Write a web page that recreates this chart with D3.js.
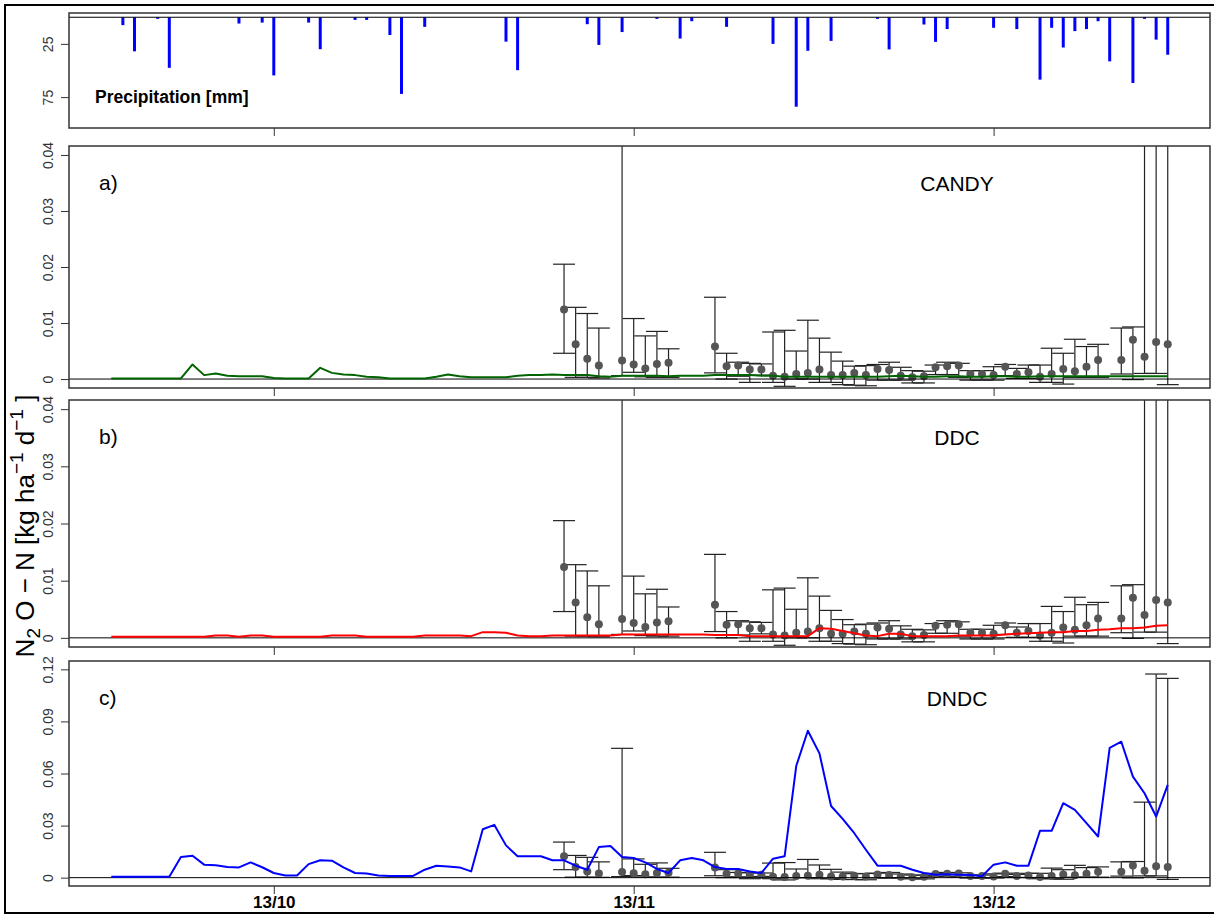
<!DOCTYPE html>
<html>
<head>
<meta charset="utf-8">
<script src="https://cdn.jsdelivr.net/npm/d3@7"></script>
<style>
  body { margin: 0; background: #fff; }
  text { font-family: "Liberation Sans", Arial, sans-serif; }
</style>
</head>
<body>
<svg id="chart" width="1214" height="915"></svg>
<script>
// day index: 0 = 13/10, model output is daily from day -14 to day 77
const modelStart = -14;
const tickDay = [0, 31, 62];
const tickLabel = ["13/10", "13/11", "13/12"];

const candy = [
  0.0001, 0.0001, 0.0001, 0.0001, 0.0001, 0.0001, 0.0001,
  0.0026, 0.0007, 0.0010, 0.0006, 0.0005, 0.0005, 0.0005,
  0.0002, 0.0001, 0.0001, 0.0001, 0.0020, 0.0011, 0.0008, 0.0007, 0.0004, 0.0003,
  0.0001, 0.0001, 0.0001, 0.0001, 0.0004, 0.0008, 0.0005, 0.0003, 0.0003, 0.0003,
  0.0003, 0.0006, 0.0007, 0.0007, 0.0008, 0.0007, 0.0007, 0.0007, 0.0005, 0.0004,
  0.0006, 0.0006, 0.0006, 0.0006, 0.0005, 0.0006, 0.0006, 0.0006, 0.0007, 0.0007,
  0.0007, 0.0007, 0.0006, 0.0006, 0.0004, 0.0004, 0.0004, 0.0004, 0.0004, 0.0004,
  0.0004, 0.0004, 0.0004, 0.0005, 0.0006, 0.0005, 0.0004, 0.0004, 0.0005, 0.0005,
  0.0004, 0.0004, 0.0005, 0.0005, 0.0004, 0.0004, 0.0005, 0.0005, 0.0005, 0.0005,
  0.0005, 0.0005, 0.0005, 0.0005, 0.0005, 0.0005, 0.0005, 0.0005
];

const ddc = [
  0.0002, 0.0002, 0.0002, 0.0002, 0.0002, 0.0002, 0.0002,
  0.0002, 0.0002, 0.0004, 0.0004, 0.0002, 0.0004, 0.0004,
  0.0002, 0.0002, 0.0002, 0.0002, 0.0002, 0.0004, 0.0004, 0.0004, 0.0002, 0.0002,
  0.0002, 0.0002, 0.0002, 0.0004, 0.0004, 0.0004, 0.0004, 0.0003, 0.0010, 0.0010,
  0.0009, 0.0004, 0.0003, 0.0003, 0.0004, 0.0004, 0.0004, 0.0004, 0.0004, 0.0004,
  0.0006, 0.0006, 0.0006, 0.0006, 0.0006, 0.0006, 0.0006, 0.0006, 0.0005, 0.0005,
  0.0005, 0.0003, 0.0003, 0.0003, 0.0003, 0.0003, 0.0003, 0.0017, 0.0016, 0.0012,
  0.0008, 0.0004, 0.0003, 0.0007, 0.0007, 0.0003, 0.0003, 0.0003, 0.0003, 0.0004,
  0.0004, 0.0004, 0.0004, 0.0006, 0.0007, 0.0008, 0.0009, 0.0010, 0.0010, 0.0012,
  0.0012, 0.0014, 0.0015, 0.0017, 0.0017, 0.0018, 0.0021, 0.0022
];

const dndc = [
  0.0005, 0.0005, 0.0005, 0.0005, 0.0005, 0.0005,
  0.0119, 0.0126, 0.0075, 0.0071, 0.0062, 0.0059, 0.0088, 0.0060,
  0.0027, 0.0013, 0.0012, 0.0078, 0.0100, 0.0098, 0.0059, 0.0027, 0.0024, 0.0012,
  0.0010, 0.0010, 0.0010, 0.0046, 0.0069, 0.0065, 0.0059, 0.0036, 0.0279, 0.0304,
  0.0186, 0.0123, 0.0123, 0.0123, 0.0100, 0.0100, 0.0069, 0.0046, 0.0176, 0.0182,
  0.0119, 0.0113, 0.0088, 0.0050, 0.0027, 0.0100, 0.0113, 0.0100, 0.0061, 0.0050,
  0.0050, 0.0036, 0.0027, 0.0109, 0.0123, 0.0643, 0.0846, 0.0716, 0.0413, 0.0339,
  0.0256, 0.0161, 0.0069, 0.0069, 0.0069, 0.0046, 0.0027, 0.0017, 0.0019, 0.0017,
  0.0015, 0.0008, 0.0075, 0.0088, 0.0069, 0.0069, 0.0270, 0.0270, 0.0429, 0.0390,
  0.0314, 0.0237, 0.0748, 0.0783, 0.0582, 0.0486, 0.0352, 0.0534
];

// measured fluxes (mean with upper / lower bounds)
const obsDay = [25, 26, 27, 28, 30, 31, 32, 33, 34,
  38, 39, 40, 41, 42, 43, 44, 45, 46, 47, 48, 49, 50, 51,
  52, 53, 54, 55, 56, 57, 58, 59, 60, 61, 62, 63, 64, 65, 66, 67, 68, 69, 70, 71,
  73, 74, 75, 76, 77];
const obsMean = [0.0124, 0.0062, 0.0036, 0.0024, 0.0033, 0.0026, 0.0019, 0.0027, 0.0029,
  0.0058, 0.0023, 0.0024, 0.0017, 0.0017, 0.0006, 0.0004, 0.0009, 0.0011, 0.0017, 0.0007, 0.0007, 0.0011, 0.0007,
  0.0018, 0.0016, 0.0006, 0.0003, 0.0005, 0.0021, 0.0023, 0.0024, 0.0009, 0.0009, 0.0007, 0.0022, 0.0009, 0.0012, 0.0004, 0.0009, 0.0018, 0.0014, 0.0022, 0.0034,
  0.0034, 0.0070, 0.0040, 0.0066, 0.0062];
const obsUpper = [0.0205, 0.0128, 0.0117, 0.0091, 0.0745, 0.0108, 0.0077, 0.0085, 0.0054,
  0.0146, 0.0046, 0.0030, 0.0028, 0.0027, 0.0084, 0.0087, 0.0050, 0.0105, 0.0073, 0.0048, 0.0032, 0.0023, 0.0024,
  0.0026, 0.0030, 0.0021, 0.0015, 0.0014, 0.0025, 0.0030, 0.0028, 0.0015, 0.0015, 0.0022, 0.0026, 0.0019, 0.0025, 0.0025, 0.0055, 0.0046, 0.0071, 0.0058, 0.0062,
  0.0091, 0.0093, 0.0435, 0.1173, 0.1148];
const obsLower = [0.0046, 0.0003, 0.0003, 0.0002, 0.0006, 0.0012, 0.0004, 0.0003, 0.0003,
  0.0011, 0.0000, 0.0005, -0.0006, 0.0007, -0.0006, -0.0013, 0.0000, 0.0000, -0.0006, -0.0006, -0.0010, -0.0011, -0.0012,
  -0.0002, -0.0002, -0.0002, -0.0007, -0.0007, 0.0008, 0.0008, 0.0003, -0.0002, -0.0002, -0.0002, 0.0006, 0.0001, 0.0001, -0.0006, -0.0006, -0.0009, 0.0003, 0.0003, 0.0003,
  0.0009, -0.0001, 0.0010, 0.0010, -0.0010];

// daily precipitation
const rainDay = [-13, -12, -10, -9, -3, -1, 0, 3, 4, 7, 8, 10, 11, 13, 20, 21, 27, 28, 30, 33,
  35, 36, 39, 43, 45, 46, 48, 52, 53, 56, 57, 58, 62, 64, 66, 67, 68, 69, 70, 71, 72, 74, 75, 76, 77];
const rainMm = [7.4, 32, 1.5, 47.5, 5.9, 5, 54.6, 5, 30, 2.5, 2.5, 16.7, 72, 9, 22.9, 49.7, 6.5, 26, 13.9, 1.5,
  20, 3.7, 9, 25, 84, 31.5, 22.2, 1.5, 30.2, 6.8, 23.1, 11.1, 9.9, 11.1, 58.6, 9.9, 28.4, 13, 11.1, 3.7, 41.4, 61.7, 1.5, 21, 35.2];

const panels = [
  { key: "a", label: "a)", name: "CANDY", series: candy, color: "#006400", top: 146, bottom: 388, max: 0.04, ticks: [0, 0.01, 0.02, 0.03, 0.04] },
  { key: "b", label: "b)", name: "DDC", series: ddc, color: "#ff0000", top: 400, bottom: 647, max: 0.04, ticks: [0, 0.01, 0.02, 0.03, 0.04] },
  { key: "c", label: "c)", name: "DNDC", series: dndc, color: "#0000ff", top: 661, bottom: 886, max: 0.12, ticks: [0, 0.03, 0.06, 0.09, 0.12] }
];

const left = 69, right = 1210;
const svg = d3.select("#chart");

// R-style 4% axis extension
const lastDay = modelStart + dndc.length - 1;
const xPad = (lastDay - modelStart) * 0.04;
const x = d3.scaleLinear().domain([modelStart - xPad, lastDay + xPad]).range([left, right]);

// outer frame
svg.append("rect")
  .attr("x", 5).attr("y", 5).attr("width", 1230).attr("height", 908)
  .attr("fill", "none").attr("stroke", "#000").attr("stroke-width", 2);

function yAxis(g, y, ticks) {
  g.call(d3.axisLeft(y).tickValues(ticks).tickSize(8).tickFormat(d => String(d)));
  g.select(".domain").remove();
  g.selectAll("line").attr("stroke", "#333");
  g.selectAll("text")
    .attr("x", 0).attr("dy", 0)
    .attr("transform", "translate(-16,0) rotate(-90)")
    .attr("text-anchor", "middle")
    .attr("fill", "#333")
    .style("font-size", "14px");
}

function xAxis(g, showLabels) {
  g.call(d3.axisBottom(x).tickValues(tickDay).tickSize(8)
    .tickFormat((d, i) => showLabels ? tickLabel[i] : ""));
  g.select(".domain").remove();
  g.selectAll("line").attr("stroke", "#333");
  g.selectAll("text")
    .attr("y", 22).attr("dy", 0)
    .attr("fill", "#000")
    .style("font-size", "17px")
    .style("font-weight", "bold");
}

// precipitation panel
const pTop = 13, pBottom = 128;
const yRain = d3.scaleLinear().domain([-4, 104]).range([pTop, pBottom]);

svg.append("g").selectAll("line")
  .data(rainDay)
  .join("line")
  .attr("x1", d => x(d)).attr("x2", d => x(d))
  .attr("y1", yRain(0))
  .attr("y2", (d, i) => yRain(rainMm[i]))
  .attr("stroke", "#0000ff")
  .attr("stroke-width", 3);

svg.append("line")
  .attr("x1", left).attr("x2", right)
  .attr("y1", yRain(0)).attr("y2", yRain(0))
  .attr("stroke", "#000").attr("stroke-width", 1.2);

svg.append("rect")
  .attr("x", left).attr("y", pTop).attr("width", right - left).attr("height", pBottom - pTop)
  .attr("fill", "none").attr("stroke", "#333").attr("stroke-width", 1.5);

svg.append("g").attr("transform", `translate(${left},0)`).call(yAxis, yRain, [25, 75]);
svg.append("g").attr("transform", `translate(0,${pBottom})`).call(xAxis, false);

svg.append("text")
  .attr("x", 95).attr("y", 103)
  .style("font-size", "17.5px").style("font-weight", "bold")
  .text("Precipitation [mm]");

// flux panels
panels.forEach(p => {
  const yPad = p.max * 0.04;
  const y = d3.scaleLinear().domain([-yPad, p.max + yPad]).range([p.bottom, p.top]);

  svg.append("clipPath").attr("id", "clip-" + p.key)
    .append("rect")
    .attr("x", left).attr("y", p.top).attr("width", right - left).attr("height", p.bottom - p.top);

  const g = svg.append("g").attr("clip-path", `url(#clip-${p.key})`);

  // error bars
  const bars = g.append("g").attr("stroke", "#222").attr("stroke-width", 1.2);
  bars.selectAll(".stem")
    .data(obsDay)
    .join("line")
    .attr("class", "stem")
    .attr("x1", d => x(d)).attr("x2", d => x(d))
    .attr("y1", (d, i) => y(obsLower[i]))
    .attr("y2", (d, i) => y(obsUpper[i]));
  bars.selectAll(".cap-up")
    .data(obsDay)
    .join("line")
    .attr("class", "cap-up")
    .attr("x1", d => x(d) - 11).attr("x2", d => x(d) + 11)
    .attr("y1", (d, i) => y(obsUpper[i])).attr("y2", (d, i) => y(obsUpper[i]));
  bars.selectAll(".cap-low")
    .data(obsDay)
    .join("line")
    .attr("class", "cap-low")
    .attr("x1", d => x(d) - 11).attr("x2", d => x(d) + 11)
    .attr("y1", (d, i) => y(obsLower[i])).attr("y2", (d, i) => y(obsLower[i]));

  g.selectAll("circle")
    .data(obsDay)
    .join("circle")
    .attr("cx", d => x(d))
    .attr("cy", (d, i) => y(obsMean[i]))
    .attr("r", 4)
    .attr("fill", "#555");

  g.append("line")
    .attr("x1", left).attr("x2", right)
    .attr("y1", y(0)).attr("y2", y(0))
    .attr("stroke", "#000").attr("stroke-width", 1);

  const line = d3.line()
    .x((d, i) => x(modelStart + i))
    .y(d => y(d));

  g.append("path")
    .datum(p.series)
    .attr("d", line)
    .attr("fill", "none")
    .attr("stroke", p.color)
    .attr("stroke-width", 2)
    .attr("stroke-linejoin", "round");

  svg.append("rect")
    .attr("x", left).attr("y", p.top).attr("width", right - left).attr("height", p.bottom - p.top)
    .attr("fill", "none").attr("stroke", "#333").attr("stroke-width", 1.5);

  svg.append("g").attr("transform", `translate(${left},0)`).call(yAxis, y, p.ticks);
  svg.append("g").attr("transform", `translate(0,${p.bottom})`).call(xAxis, p.key === "c");

  svg.append("text")
    .attr("x", 99).attr("y", p.top + 44)
    .style("font-size", "21px")
    .text(p.label);

  svg.append("text")
    .attr("x", 957).attr("y", p.top + 45)
    .attr("text-anchor", "middle")
    .style("font-size", "21px")
    .text(p.name);
});

// shared y axis title
const title = svg.append("text")
  .attr("transform", "translate(34,526) rotate(-90)")
  .attr("text-anchor", "middle")
  .style("font-size", "26px");
title.append("tspan").text("N");
title.append("tspan").attr("dy", 6).style("font-size", "19px").text("2");
title.append("tspan").attr("dy", -6).text(" O \u2212 N [kg ha");
title.append("tspan").attr("dy", -11).style("font-size", "19px").text("\u22121");
title.append("tspan").attr("dy", 11).text(" d");
title.append("tspan").attr("dy", -11).style("font-size", "19px").text("\u22121");
title.append("tspan").attr("dy", 11).text(" ]");
</script>
</body>
</html>
